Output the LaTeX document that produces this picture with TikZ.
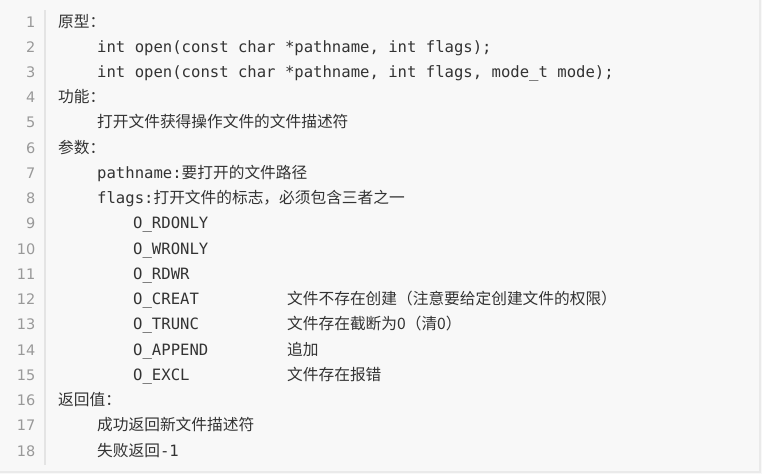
\documentclass[tikz,border=0pt]{standalone}
\usepackage{fontspec}
\setmainfont{Noto Sans CJK SC}
\newfontfamily\codefont{DejaVu Sans Mono}
\newfontfamily\numfont{DejaVu Sans}
\definecolor{codebg}{HTML}{F8F8F8}
\definecolor{codetext}{HTML}{333333}
\definecolor{numgray}{HTML}{999999}
\definecolor{gutterline}{HTML}{E4E4E4}
\definecolor{edgeline}{HTML}{EAEAEA}
\newcommand{\codetxt}[1]{{\codefont\fontsize{15.6}{15.6}\selectfont #1}}

\begin{document}
\begin{tikzpicture}[x=1pt, y=-1pt,
	lineno/.style={anchor=base east, inner sep=0, text=numgray, font=\numfont\fontsize{14.5}{14.5}\selectfont},
	code/.style={anchor=base west, inner sep=0, text=codetext, font=\fontsize{15.7}{15.7}\selectfont}]
				% Background
				\fill[codebg] (0,0) rectangle (762,474);
				\useasboundingbox (0,0) rectangle (762,474);
				\draw[edgeline, line width=1.5pt] (760,0) -- (760,472) -- (0,472);
				\draw[gutterline, line width=2pt] (45,10) -- (45,465);
				
				% Line numbers
				\node (num1) [lineno] at (35.5,27.00) {1};
				\node (num2) [lineno] at (35.5,52.24) {2};
				\node (num3) [lineno] at (35.5,77.48) {3};
				\node (num4) [lineno] at (35.5,102.72) {4};
				\node (num5) [lineno] at (35.5,127.96) {5};
				\node (num6) [lineno] at (35.5,153.20) {6};
				\node (num7) [lineno] at (35.5,178.44) {7};
				\node (num8) [lineno] at (35.5,203.68) {8};
				\node (num9) [lineno] at (35.5,228.92) {9};
				\node (num10) [lineno] at (35.5,254.16) {10};
				\node (num11) [lineno] at (35.5,279.40) {11};
				\node (num12) [lineno] at (35.5,304.64) {12};
				\node (num13) [lineno] at (35.5,329.88) {13};
				\node (num14) [lineno] at (35.5,355.12) {14};
				\node (num15) [lineno] at (35.5,380.36) {15};
				\node (num16) [lineno] at (35.5,405.60) {16};
				\node (num17) [lineno] at (35.5,430.84) {17};
				\node (num18) [lineno] at (35.5,456.08) {18};
				
				% Code lines
				\node (line1) [code] at (58,27.00) {原型：};
				\node (line2) [code] at (97,52.24) {\codetxt{int open(const char *pathname, int flags);}};
				\node (line3) [code] at (97,77.48) {\codetxt{int open(const char *pathname, int flags, mode\_t mode);}};
				\node (line4) [code] at (58,102.72) {功能：};
				\node (line5) [code] at (97,127.96) {打开文件获得操作文件的文件描述符};
				\node (line6) [code] at (58,153.20) {参数：};
				\node (line7) [code] at (97,178.44) {\codetxt{pathname:}要打开的文件路径};
				\node (line8) [code] at (97,203.68) {\codetxt{flags:}打开文件的标志，必须包含三者之一};
				\node (line9) [code] at (133,228.92) {\codetxt{O\_RDONLY}};
				\node (line10) [code] at (133,254.16) {\codetxt{O\_WRONLY}};
				\node (line11) [code] at (133,279.40) {\codetxt{O\_RDWR}};
				\node (line12) [code] at (133,304.64) {\codetxt{O\_CREAT}};
				\node (line13) [code] at (133,329.88) {\codetxt{O\_TRUNC}};
				\node (line14) [code] at (133,355.12) {\codetxt{O\_APPEND}};
				\node (line15) [code] at (133,380.36) {\codetxt{O\_EXCL}};
				\node (line16) [code] at (58,405.60) {返回值：};
				\node (line17) [code] at (97,430.84) {成功返回新文件描述符};
				\node (line18) [code] at (97,456.08) {失败返回\codetxt{-1}};
				
				% Flag notes
				\node (note12) [code] at (287,304.64) {文件不存在创建（注意要给定创建文件的权限）};
				\node (note13) [code] at (287,329.88) {文件存在截断为0（清0）};
				\node (note14) [code] at (287,355.12) {追加};
				\node (note15) [code] at (287,380.36) {文件存在报错};
				
			\end{tikzpicture}
\end{document}
